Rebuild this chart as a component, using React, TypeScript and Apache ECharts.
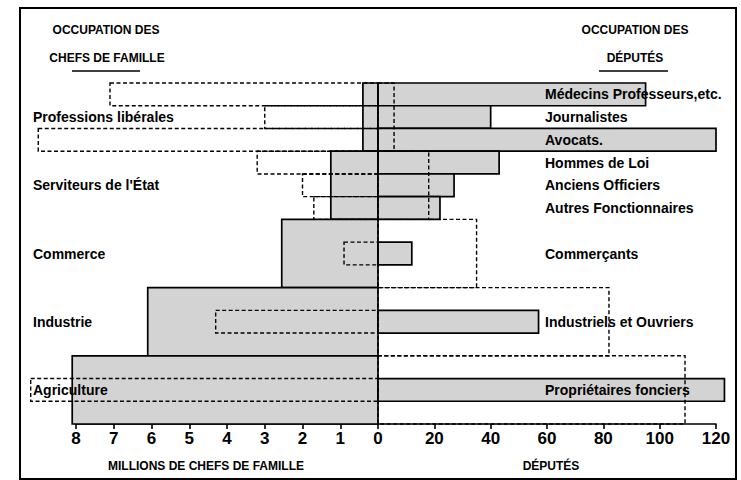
import React, { useEffect, useRef } from 'react';
import * as echarts from 'echarts';

// 15 horizontal rows (top to bottom)
const rowKeys = ['r0', 'r1', 'r2', 'r3', 'r4', 'r5', 'r6', 'r7', 'r8', 'r9', 'r10', 'r11', 'r12', 'r13', 'r14'];

// Left-hand labels (occupation des chefs de famille)
const chefLabels = ['', 'Professions libérales', '', '', "Serviteurs de l'État", '', '', 'Commerce', '', '', 'Industrie', '', '', 'Agriculture', ''];
// Right-hand labels (occupation des députés)
const deputeLabels = ['Médecins Professeurs,etc.', 'Journalistes', 'Avocats.', 'Hommes de Loi', 'Anciens Officiers', 'Autres Fonctionnaires', '', 'Commerçants', '', '', 'Industriels et Ouvriers', '', '', 'Propriétaires fonciers', ''];

// Broad occupational groups: first and last row
const groupFirstRow = [0, 3, 6, 9, 12];
const groupLastRow = [2, 5, 8, 11, 14];
// Millions of heads of family per group (shaded, left)
const chefsMillions = [0.4, 1.25, 2.55, 6.1, 8.1];
// Same, expressed on the deputies scale (dashed, right)
const chefsOnDeputesScale = [5.7, 18, 35, 82, 109];

// Detailed deputies' occupations: row
const occupationRows = [0, 1, 2, 3, 4, 5, 7, 10, 13];
// Number of deputies (shaded, right)
const deputes = [95, 40, 120, 43, 27, 22, 12, 57, 123];
// Same, expressed on the heads-of-family scale (dashed, left)
const deputesOnChefsScale = [7.1, 3.0, 9.0, 3.2, 2.0, 1.7, 0.9, 4.3, 9.2];

const chefTicks = [0, 8, 1];
const deputeTicks = [0, 120, 20];

const FONT = '"Liberation Sans", Arial, Helvetica, sans-serif';
const GRAY = '#d3d3d3';

function makeRender(fill: string, dashed: boolean) {
  return (params: any, api: any) => {
    const v = api.value(0);
    const r0 = api.value(1);
    const r1 = api.value(2);
    const a = api.coord([0, r0]);
    const b = api.coord([v, r1]);
    const band = Math.abs(api.coord([0, 1])[1] - api.coord([0, 0])[1]);
    const x = Math.min(a[0], b[0]);
    const w = Math.abs(b[0] - a[0]);
    const y = Math.min(a[1], b[1]) - band / 2;
    const h = Math.abs(b[1] - a[1]) + band;
    return {
      type: 'rect',
      shape: { x, y, width: w, height: h },
      style: {
        fill,
        stroke: '#000',
        lineWidth: dashed ? 1.4 : 1.7,
        lineDash: dashed ? [4, 2.5] : null,
      },
    };
  };
}

export default function App() {
  const ref = useRef<HTMLDivElement>(null);
  useEffect(() => {
    if (!ref.current) return;
    const chart = echarts.init(ref.current, undefined, { renderer: 'svg' });
    const axisLabelStyle = { color: '#000', fontWeight: 'bold', fontSize: 17, fontFamily: FONT, margin: 6 };
    const axisLineStyle = { color: '#000', width: 1.6 };
    const option: any = {
      animation: false,
      backgroundColor: '#fff',
      textStyle: { fontFamily: FONT },
      grid: [
        { left: 76, width: 302, top: 83, height: 341 },
        { left: 378, width: 338, top: 83, height: 341 },
      ],
      xAxis: [
        {
          type: 'value', gridIndex: 0, min: chefTicks[0], max: chefTicks[1], interval: chefTicks[2], inverse: true,
          axisLine: { show: true, lineStyle: axisLineStyle },
          axisTick: { show: true, length: 5, inside: false, lineStyle: axisLineStyle },
          axisLabel: axisLabelStyle,
          splitLine: { show: false },
        },
        {
          type: 'value', gridIndex: 1, min: deputeTicks[0], max: deputeTicks[1], interval: deputeTicks[2],
          axisLine: { show: true, lineStyle: axisLineStyle },
          axisTick: { show: true, length: 5, inside: false, lineStyle: axisLineStyle },
          axisLabel: { ...axisLabelStyle, showMinLabel: false },
          showMinLabel: false,
          splitLine: { show: false },
        },
      ],
      yAxis: [
        {
          type: 'category', gridIndex: 0, data: rowKeys, inverse: true, position: 'left', z: 10,
          axisLine: { show: false }, axisTick: { show: false }, splitLine: { show: false },
          axisLabel: {
            interval: 0, align: 'left', margin: 43, color: '#000', fontWeight: 'bold', fontSize: 14, fontFamily: FONT,
            formatter: (_v: string, i: number) => chefLabels[i],
          },
        },
        {
          type: 'category', gridIndex: 1, data: rowKeys, inverse: true, position: 'left', z: 10,
          axisLine: { show: false }, axisTick: { show: false }, splitLine: { show: false },
          axisLabel: {
            interval: 0, inside: true, margin: 167, color: '#000', fontWeight: 'bold', fontSize: 14, fontFamily: FONT,
            formatter: (_v: string, i: number) => deputeLabels[i],
          },
        },
      ],
      series: [
        {
          type: 'custom', xAxisIndex: 0, yAxisIndex: 0, clip: false, z: 2,
          renderItem: makeRender(GRAY, false),
          encode: { x: 0, y: 1 },
          data: chefsMillions.map((v, i) => [v, groupFirstRow[i], groupLastRow[i]]),
        },
        {
          type: 'custom', xAxisIndex: 1, yAxisIndex: 1, clip: false, z: 2,
          renderItem: makeRender(GRAY, false),
          encode: { x: 0, y: 1 },
          data: deputes.map((v, i) => [v, occupationRows[i], occupationRows[i]]),
        },
        {
          type: 'custom', xAxisIndex: 0, yAxisIndex: 0, clip: false, z: 3,
          renderItem: makeRender('none', true),
          encode: { x: 0, y: 1 },
          data: deputesOnChefsScale.map((v, i) => [v, occupationRows[i], occupationRows[i]]),
        },
        {
          type: 'custom', xAxisIndex: 1, yAxisIndex: 1, clip: false, z: 3,
          renderItem: makeRender('none', true),
          encode: { x: 0, y: 1 },
          data: chefsOnDeputesScale.map((v, i) => [v, groupFirstRow[i], groupLastRow[i]]),
        },
      ],
      graphic: [
        { type: 'rect', shape: { x: 20, y: 8, width: 716, height: 471 }, style: { fill: 'none', stroke: '#000', lineWidth: 2 }, z: 10 },
        { type: 'text', x: 106, y: 30, style: { text: 'OCCUPATION DES', font: `bold 12px ${FONT}`, fill: '#000', textAlign: 'center', textVerticalAlign: 'middle' } },
        { type: 'text', x: 107, y: 58, style: { text: 'CHEFS DE FAMILLE', font: `bold 12px ${FONT}`, fill: '#000', textAlign: 'center', textVerticalAlign: 'middle' } },
        { type: 'line', shape: { x1: 72, y1: 71, x2: 140, y2: 71 }, style: { stroke: '#000', lineWidth: 1.6 } },
        { type: 'text', x: 635, y: 30, style: { text: 'OCCUPATION DES', font: `bold 12px ${FONT}`, fill: '#000', textAlign: 'center', textVerticalAlign: 'middle' } },
        { type: 'text', x: 635, y: 58, style: { text: 'DÉPUTÉS', font: `bold 12px ${FONT}`, fill: '#000', textAlign: 'center', textVerticalAlign: 'middle' } },
        { type: 'line', shape: { x1: 599, y1: 71, x2: 668, y2: 71 }, style: { stroke: '#000', lineWidth: 1.6 } },
        { type: 'text', x: 206, y: 466, style: { text: 'MILLIONS DE CHEFS DE FAMILLE', font: `bold 12px ${FONT}`, fill: '#000', textAlign: 'center', textVerticalAlign: 'middle' } },
        { type: 'text', x: 551, y: 466, style: { text: 'DÉPUTÉS', font: `bold 12px ${FONT}`, fill: '#000', textAlign: 'center', textVerticalAlign: 'middle' } },
      ],
    };
    chart.setOption(option);
    return () => chart.dispose();
  }, []);
  return <div ref={ref} style={{ position: 'fixed', left: 0, top: 0, width: 741, height: 480, background: '#fff' }} />;
}
